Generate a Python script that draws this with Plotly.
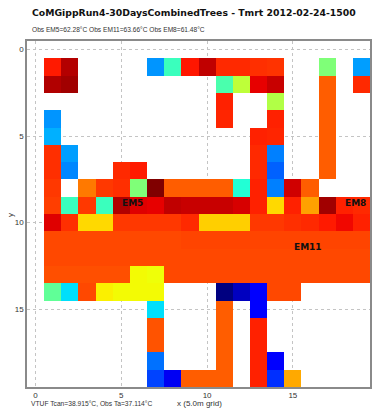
import plotly.graph_objects as go

# Mean radiant temperature (degC) on a 20 x 20 grid of 5 m cells; None = no data
N = None
tmrt_rows = [
    [N] * 20,
    [N, 64.7, 68.0, N, N, N, N, 37.2, 43.9, 64.9, 67.5, 64.0, 64.0, 63.7, 63.5, N, N, 47.7, N, 37.6],
    [N, 68.1, 68.7, N, N, N, N, N, N, N, N, 44.8, 51.1, 66.0, 67.2, N, N, 61.5, N, 64.0],
    [N, N, N, N, N, N, N, N, N, N, N, 64.4, N, N, 50.4, N, N, 61.5, N, N],
    [N, 37.2, N, N, N, N, N, N, N, N, N, 64.2, N, N, 64.4, N, N, 61.5, N, N],
    [N, 38.4, N, N, N, N, N, N, N, N, N, N, N, 64.4, 64.2, N, N, 61.5, N, N],
    [N, 63.7, 37.6, N, N, N, N, N, N, N, N, N, N, 64.0, 36.3, N, N, 61.5, N, N],
    [N, 63.7, 36.6, N, N, 64.0, 64.7, N, N, N, N, N, N, 64.0, 34.9, N, N, 61.5, N, N],
    [N, 63.3, N, 60.2, 63.3, 63.7, 47.7, 70.0, 61.5, 61.5, 61.5, 61.5, 42.6, 64.4, 36.3, 66.9, 61.5, N, N, N],
    [N, 63.0, 43.9, 63.3, 43.9, 68.1, 66.3, 66.0, 67.5, 67.2, 67.2, 67.2, 66.6, 64.4, 55.6, 64.4, 58.3, 68.7, 64.4, 64.0],
    [N, 66.3, 63.7, 55.6, 55.6, 63.3, 63.3, 63.3, 63.3, 64.0, 56.1, 56.1, 56.1, 63.3, 63.3, 63.7, 64.0, 64.7, 65.6, 64.4],
    [N, 62.5, 62.5, 62.5, 62.5, 62.5, 62.5, 62.5, 62.5, 62.7, 62.7, 62.7, 62.7, 62.7, 62.7, 62.7, 62.7, 62.7, 62.7, 62.7],
    [N, 62.5, 62.5, 62.5, 62.5, 62.5, 62.5, 62.5, 62.5, 62.5, 62.5, 62.5, 62.5, 62.5, 62.5, 62.5, 62.5, 62.5, 62.5, 62.5],
    [N, 62.2, 62.2, 62.2, 62.2, 62.2, 54.0, 53.8, 62.5, 62.5, 62.5, 62.5, 62.5, 62.5, 62.5, 62.5, 62.5, 62.5, 62.5, 62.5],
    [N, 46.0, 40.5, 62.5, 54.5, 54.0, 54.0, 54.0, N, N, N, 25.0, 27.5, 30.2, 62.5, 62.5, N, N, N, N],
    [N, N, N, N, N, N, N, 40.5, N, N, N, 61.5, N, 30.2, N, N, N, N, N, N],
    [N, N, N, N, N, N, N, 62.0, N, N, N, 61.5, N, 64.4, N, N, N, N, N, N],
    [N, N, N, N, N, N, N, 62.0, N, N, N, 61.5, N, 64.4, N, N, N, N, N, N],
    [N, N, N, N, N, N, N, 35.6, N, N, N, 61.5, N, 64.4, 30.0, N, N, N, N, N],
    [N, N, N, N, N, N, N, 33.6, 29.5, 61.5, 61.5, 61.5, N, 64.4, 32.7, 57.9, N, N, N, N],
]
x_cells = list(range(20))
y_cells = list(range(20))
tick_vals = [0, 5, 10, 15]

# observation station markers (label, x, y in grid units)
station_names = ["EM5", "EM8", "EM11"]
station_x = [5.64, 18.68, 15.89]
station_y = [8.88, 8.88, 11.4]

title_text = "CoMGippRun4-30DaysCombinedTrees - Tmrt 2012-02-24-1500"
obs_text = "Obs EM5=62.28°C Obs EM11=63.66°C Obs EM8=61.48°C"
vtuf_text = "VTUF Tcan=38.915°C, Obs Ta=37.114°C"

# classic 'jet' colour map built from its piecewise-linear segments
jet_r = [(0, 0), (0.35, 0), (0.66, 1), (0.89, 1), (1, 0.5)]
jet_g = [(0, 0), (0.125, 0), (0.375, 1), (0.64, 1), (0.91, 0), (1, 0)]
jet_b = [(0, 0.5), (0.11, 1), (0.34, 1), (0.65, 0), (1, 0)]


def seg(points, t):
    for (x0, y0), (x1, y1) in zip(points, points[1:]):
        if x0 <= t <= x1:
            return y0 + (y1 - y0) * (t - x0) / (x1 - x0)
    return points[-1][1]


stops = sorted({p[0] for s in (jet_r, jet_g, jet_b) for p in s})
jet = [[t, "rgb(%d,%d,%d)" % tuple(round(255 * seg(s, t)) for s in (jet_r, jet_g, jet_b))]
       for t in stops]

W, H = 373, 408
L, R, T, B = 27, 1, 41, 21
pw, ph = W - L - R, H - T - B


def px(xp):
    return (xp - L) / pw


def py(yp):
    return (H - B - yp) / ph


fig = go.Figure(go.Heatmap(
    z=tmrt_rows, x=x_cells, y=y_cells,
    colorscale=jet, zmin=25, zmax=70, showscale=False,
    hoverongaps=False,
))

axis_common = dict(
    tickvals=tick_vals, showgrid=True, gridcolor="#c4c4c4", griddash="dot",
    gridwidth=1, zeroline=False, showline=True, mirror=True,
    linecolor="#8a8a8a", linewidth=1.5, ticks="",
    tickfont=dict(family="Liberation Sans", size=8, color="#333"),
)
fig.update_xaxes(range=[-0.5, 19.5], **axis_common)
fig.update_yaxes(range=[19.5, -0.5], **axis_common)

ann = [
    dict(text="<b>%s</b>" % title_text, x=px(30.5), y=py(12.5), xanchor="left",
         font=dict(family="DejaVu Sans", size=9.3, color="#111")),
    dict(text=obs_text, x=px(30.5), y=py(29.5), xanchor="left",
         font=dict(family="Liberation Sans", size=6.6, color="#333")),
    dict(text=vtuf_text, x=px(29.5), y=py(403.5), xanchor="left",
         font=dict(family="Liberation Sans", size=6.7, color="#333")),
    dict(text="x (5.0m grid)", x=px(200.5), y=py(404), xanchor="center",
         font=dict(family="Liberation Sans", size=8, color="#333")),
    dict(text="y", x=px(10), y=py(215), xanchor="center", textangle=-90,
         font=dict(family="Liberation Sans", size=8, color="#333")),
]
for a in ann:
    a.update(xref="paper", yref="paper", yanchor="middle", showarrow=False)

for name, sx, sy in zip(station_names, station_x, station_y):
    ann.append(dict(text="<b>%s</b>" % name, x=sx, y=sy, xref="x", yref="y",
                    showarrow=False, xanchor="center", yanchor="middle",
                    font=dict(family="DejaVu Sans", size=9, color="#111")))

fig.update_layout(
    width=W, height=H, margin=dict(l=L, r=R, t=T, b=B),
    paper_bgcolor="white", plot_bgcolor="white",
    annotations=ann, showlegend=False,
)
fig.write_html("out.html")
